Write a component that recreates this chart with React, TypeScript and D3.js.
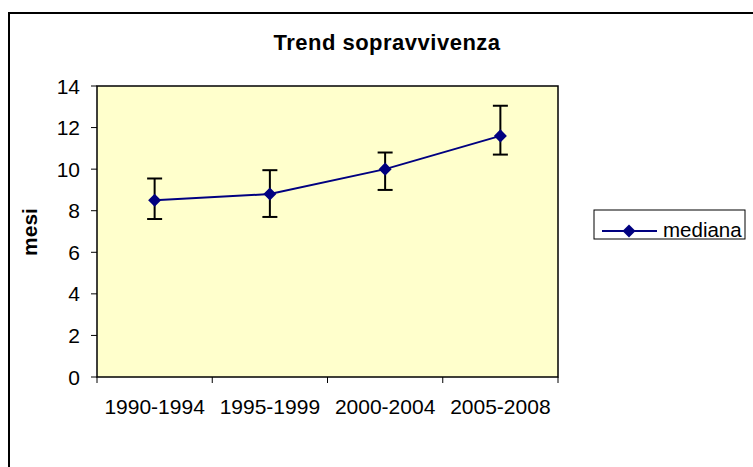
import React from 'react';
import * as d3 from 'd3';

const periods = ['1990-1994', '1995-1999', '2000-2004', '2005-2008'];
const mediana = [8.5, 8.8, 10.0, 11.6];
const lower = [7.6, 7.7, 9.0, 10.7];
const upper = [9.55, 9.95, 10.8, 13.05];
const yTicks = [0, 2, 4, 6, 8, 10, 12, 14];

const W = 753;
const H = 467;
const plot = { left: 97, top: 86, right: 558, bottom: 377 };
const FONT = '"Liberation Sans", Arial, sans-serif';

const App: React.FC = () => {
  const x = d3.scaleBand<string>().domain(periods).range([plot.left, plot.right]);
  const y = d3.scaleLinear().domain([0, 14]).range([plot.bottom, plot.top]);

  const cx = (p: string) => (x(p) ?? 0) + x.bandwidth() / 2;

  const line = d3.line<number>()
    .x((_, i) => cx(periods[i]))
    .y(d => y(d));

  // square turned 45 degrees, about 13px across
  const marker = d3.symbol().type(d3.symbolSquare).size(85)();

  return (
    <svg width={W} height={H} style={{ display: 'block', position: 'absolute', left: 0, top: 0, fontFamily: FONT }}>
      <rect x={0} y={0} width={W} height={H} fill="#fff" />
      {/* chart frame */}
      <rect x={9} y={13} width={W + 10} height={H + 10} fill="none" stroke="#000" strokeWidth={2} />

      <text x={387} y={50} textAnchor="middle" fontSize={22} fontWeight="bold" letterSpacing={0.5}>
        Trend sopravvivenza
      </text>

      {/* plot area */}
      <rect x={plot.left} y={plot.top} width={plot.right - plot.left} height={plot.bottom - plot.top}
        fill="#ffffcc" stroke="#000" strokeWidth={1.5} />

      {/* y axis ticks */}
      {yTicks.map(t => (
        <g key={t}>
          <line x1={plot.left - 6} x2={plot.left} y1={y(t)} y2={y(t)} stroke="#000" />
          <text x={80} y={y(t) + 7.5} textAnchor="end" fontSize={21}>{t}</text>
        </g>
      ))}

      {/* x axis ticks */}
      {d3.range(periods.length + 1).map(i => {
        const xx = plot.left + i * x.bandwidth();
        return <line key={i} x1={xx} x2={xx} y1={plot.bottom} y2={plot.bottom + 6} stroke="#000" />;
      })}
      {periods.map(p => (
        <text key={p} x={cx(p)} y={414} textAnchor="middle" fontSize={21}>{p}</text>
      ))}

      <text transform={`translate(37,232) rotate(-90)`} textAnchor="middle"
        fontSize={21} fontWeight="bold">mesi</text>

      {/* series line */}
      <path d={line(mediana) ?? ''} fill="none" stroke="#000080" strokeWidth={2} />

      {/* error bars */}
      {periods.map((p, i) => (
        <g key={p} stroke="#000" strokeWidth={2}>
          <line x1={cx(p)} x2={cx(p)} y1={y(lower[i])} y2={y(upper[i])} />
          <line x1={cx(p) - 7.5} x2={cx(p) + 7.5} y1={y(lower[i])} y2={y(lower[i])} />
          <line x1={cx(p) - 7.5} x2={cx(p) + 7.5} y1={y(upper[i])} y2={y(upper[i])} />
        </g>
      ))}

      {/* markers */}
      {periods.map((p, i) => (
        <path key={p} d={marker ?? ''} transform={`translate(${cx(p)},${y(mediana[i])}) rotate(45)`} fill="#000080" />
      ))}

      {/* legend */}
      <rect x={594} y={210} width={151} height={29} fill="#fff" stroke="#000" strokeWidth={1} />
      <line x1={602} x2={657} y1={231} y2={231} stroke="#000080" strokeWidth={2} />
      <path d={marker ?? ''} transform="translate(629,231) rotate(45)" fill="#000080" />
      <text x={663} y={237} fontSize={20.5}>mediana</text>
    </svg>
  );
};

export default App;
